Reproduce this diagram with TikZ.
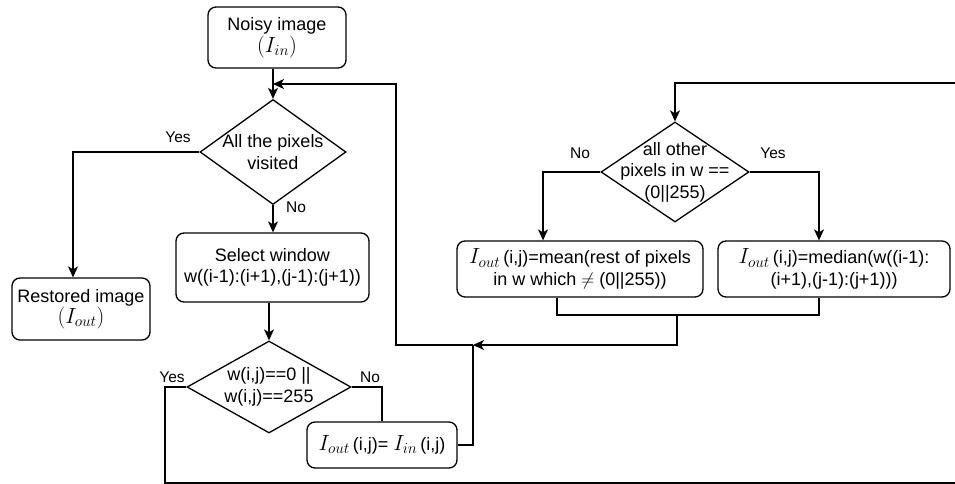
\documentclass[tikz,border=0pt]{standalone}
\usepackage{fix-cm}
\usepackage{fontspec}
\setmainfont{Liberation Sans}
\usetikzlibrary{shapes.geometric,arrows.meta}
\newcommand{\mymath}[1]{{\fontsize{22}{22}\selectfont$#1$}}
\begin{document}
\begin{tikzpicture}[x=1pt,y=-1pt,
  every node/.style={font=\fontsize{18}{21.5}\selectfont},
  box/.style={draw,rounded corners=8pt,line width=1.3pt,fill=white,align=center,inner sep=0pt},
  dia/.style={draw,diamond,line width=1.3pt,inner sep=0pt,fill=white},
  lbl/.style={font=\fontsize{15.5}{18}\selectfont,inner sep=0pt},
  line/.style={line width=1.3pt},
  arr/.style={line width=1.3pt,-{Stealth[length=11pt,width=10pt,inset=3pt]}}]
\useasboundingbox (0,0) rectangle (955,484);
\fill[white] (0,0) rectangle (955,484);

% nodes
\node[box,minimum width=138,minimum height=61] (noisy) at (277,37.5) {Noisy image\\\mymath{(I_{in})}};
\node[dia,minimum width=146,minimum height=105,label={[align=center]center:All the pixels\\visited}] (d1) at (273,152) {};
\node[box,minimum width=138,minimum height=62] (rest) at (81,309) {Restored image\\\mymath{(I_{out})}};
\node[box,minimum width=193,minimum height=69] (sel) at (272.5,267.5) {Select window\\w((i-1):(i+1),(j-1):(j+1))};
\node[dia,minimum width=164,minimum height=92,label={[align=center]center:w(i,j)==0 ||\\w(i,j)==255}] (d2) at (269,387) {};
\node[box,minimum width=150,minimum height=46] (cp) at (382,445) {\mymath{I_{out}}\,(i,j)= \mymath{I_{in}}\,(i,j)};
\node[dia,minimum width=148,minimum height=100,label={[align=center]center:all other\\pixels in w ==\\(0||255)}] (d3) at (675,172) {};
\node[box,minimum width=246,minimum height=56] (mean) at (580,269) {\mymath{I_{out}}\,(i,j)=mean(rest of pixels\\in w which $\neq$ (0||255))};
\node[box,minimum width=232,minimum height=56] (med) at (834,269) {\mymath{I_{out}}\,(i,j)=median(w((i-1):\\(i+1),(j-1):(j+1)))};

% labels
\node[lbl] (l1) at (178,137) {Yes};
\node[lbl] (l2) at (296,207) {No};
\node[lbl] (l3) at (172,377) {Yes};
\node[lbl] (l4) at (370,377) {No};
\node[lbl] (l5) at (580,153) {No};
\node[lbl] (l6) at (773,153) {Yes};

% coordinates
\coordinate (j1) at (273,84);
\coordinate (m) at (473,345);
\coordinate (lp) at (396,345);
\coordinate (mg) at (677,315);
\coordinate (c1) at (165,483);
\coordinate (c2) at (957,483);
\coordinate (c3) at (957,83);
\coordinate (c4) at (675,83);

% connectors
\draw[arr] (noisy.south -| d1.north) -- (d1.north);
\draw[arr] (m) -- (lp) |- (j1);
\draw[arr] (d1.west) -| ([xshift=-8pt]rest.north);
\draw[arr] (d1.south) -- (d1.south |- sel.north);
\draw[arr] (d2.north |- sel.south) -- (d2.north);
\draw[line] (d2.east) -| (cp.north);
\draw[line] (cp.east) -| (m);
\draw[arr] (d2.west) -| (c1) -- (c2) -- (c3) -- (c4) -- (d3.north);
\draw[arr] (d3.west) -| ([xshift=-37pt]mean.north);
\draw[arr] (d3.east) -| ([xshift=-15pt]med.north);
\draw[line] ([xshift=-23pt]mean.south) |- (mg) -| ([xshift=-15pt]med.south);
\draw[arr] (mg) |- (m);
\end{tikzpicture}
\end{document}
